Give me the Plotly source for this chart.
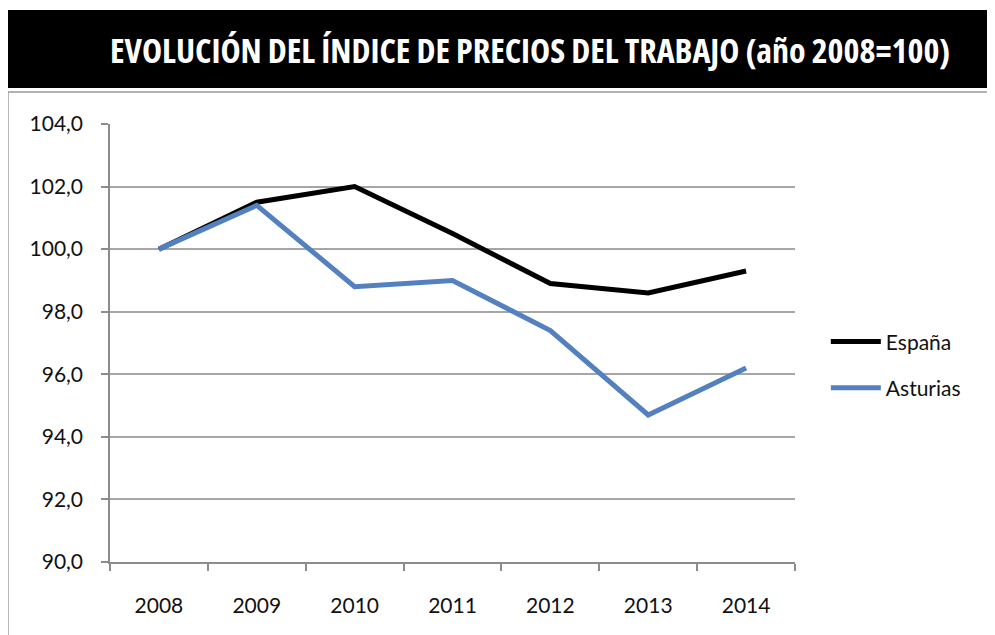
import plotly.graph_objects as go

# Índice de precios del trabajo (año 2008 = 100)
years = ["2008", "2009", "2010", "2011", "2012", "2013", "2014"]
espana = [100.0, 101.5, 102.0, 100.5, 98.9, 98.6, 99.3]
asturias = [100.0, 101.4, 98.8, 99.0, 97.4, 94.7, 96.2]

title_text = "EVOLUCIÓN DEL ÍNDICE DE PRECIOS DEL TRABAJO (año 2008=100)"
label_font = "Lato, Calibri, Carlito, sans-serif"

fig = go.Figure()

fig.add_trace(go.Scatter(
    x=years, y=espana, name="España", mode="lines",
    line=dict(color="#000000", width=5), legendgroup="a"
))
fig.add_trace(go.Scatter(
    x=years, y=asturias, name="Asturias", mode="lines",
    line=dict(color="#5381c0", width=5), legendgroup="b"
))

# Black title bar + thin frame around the chart area
fig.add_shape(type="rect", xref="paper", yref="paper",
              x0=-0.155, x1=1.3, y0=1.082, y1=1.26,
              fillcolor="black", line=dict(width=0), layer="below")
fig.add_shape(type="line", xref="paper", yref="paper",
              x0=-0.155, x1=1.3, y0=1.073, y1=1.073,
              line=dict(color="#9a9a9a", width=1.5))
fig.add_shape(type="line", xref="paper", yref="paper",
              x0=-0.149, x1=-0.149, y0=1.073, y1=-0.2,
              line=dict(color="#9a9a9a", width=1.5))

fig.add_annotation(
    text='<span style="font-stretch:condensed">' + title_text + "</span>",
    xref="paper", yref="paper",
    x=0.613, y=1.169, showarrow=False, xanchor="center", yanchor="middle",
    font=dict(family="Open Sans, sans-serif", size=34, color="white",
              weight="bold")
)

# page body has an 8px margin, so the margins are shifted to compensate
fig.update_layout(
    width=995, height=635,
    margin=dict(l=102, r=208, t=116, b=81),
    paper_bgcolor="white", plot_bgcolor="white",
    separators=", ",
    font=dict(family=label_font, size=21, color="#111111"),
    legend=dict(
        x=1.045, y=0.45, xanchor="left", yanchor="middle",
        font=dict(size=21, family=label_font),
        traceorder="grouped", tracegroupgap=16, itemwidth=50,
        bgcolor="rgba(0,0,0,0)"
    ),
    xaxis=dict(
        type="category", range=[-0.5, 6.5],
        showgrid=False, showline=True, linecolor="#8c8c8c", linewidth=1.5,
        ticks="outside", tickson="boundaries", ticklen=7, tickcolor="#8c8c8c",
        tickwidth=1.5, ticklabelstandoff=24, tickfont=dict(size=21)
    ),
    yaxis=dict(
        range=[90, 104], dtick=2, tickformat=".1f",
        showgrid=True, gridcolor="#a6a6a6", gridwidth=1.5,
        showline=True, linecolor="#8c8c8c", linewidth=1.5,
        ticks="outside", ticklen=7, tickcolor="#8c8c8c", tickwidth=1.5,
        ticklabelstandoff=14, tickfont=dict(size=21), zeroline=False
    ),
)

fig.write_html("out.html")
